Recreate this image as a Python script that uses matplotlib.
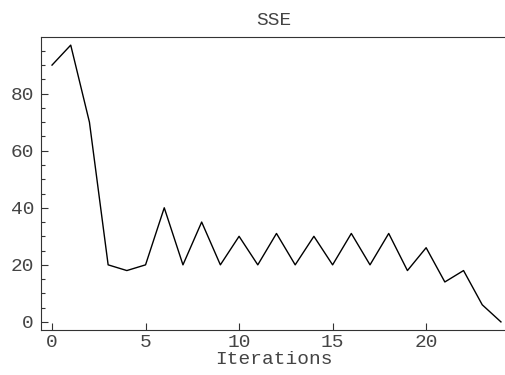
import matplotlib
matplotlib.use("Agg")
import matplotlib.pyplot as plt
from matplotlib.ticker import MultipleLocator

# SSE per iteration
iterations = list(range(25))
sse = [90, 97, 70, 20, 18, 20, 40, 20, 35, 20, 30, 20, 31, 20,
       30, 20, 31, 20, 31, 18, 26, 14, 18, 6, 0]

plt.rcParams["font.family"] = ["Liberation Mono", "DejaVu Sans Mono"]
plt.rcParams["font.size"] = 14

fig = plt.figure(figsize=(5.06, 3.75), dpi=100)
ax = fig.add_axes([0.081, 0.121, 0.919, 0.78])

ax.plot(iterations, sse, color="black", lw=1.0)

ax.set_xlim(-0.59, 24.27)
ax.set_ylim(-2.7, 99.8)

ax.xaxis.set_major_locator(MultipleLocator(5))
ax.yaxis.set_major_locator(MultipleLocator(20))
ax.yaxis.set_minor_locator(MultipleLocator(5))

ax.tick_params(which="both", direction="in", top=False, right=False,
               colors="#333333", labelcolor="#444444", width=0.8)
ax.tick_params(which="major", length=5, pad=5)
ax.tick_params(axis="x", which="major", pad=3)
ax.tick_params(which="minor", length=3)

ax.spines["right"].set_visible(False)
for s in ("left", "top", "bottom"):
    ax.spines[s].set_color("#333333")

ax.set_title("SSE", color="#444444", fontsize=14, pad=9)
ax.set_xlabel("Iterations", color="#444444", labelpad=0)

fig.savefig("out.png", dpi=100)
